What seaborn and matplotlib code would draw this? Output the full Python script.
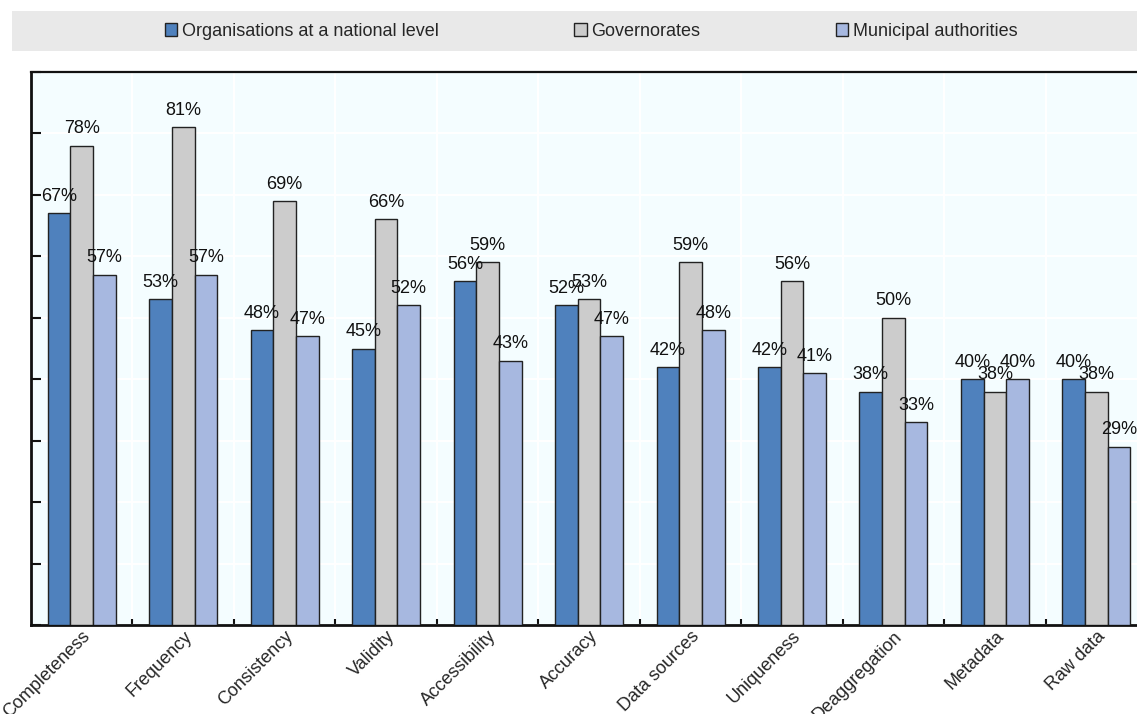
import matplotlib
matplotlib.use("Agg")
import matplotlib.pyplot as plt
from matplotlib.patches import Rectangle
from matplotlib.ticker import MultipleLocator, FixedLocator
import seaborn as sns
import pandas as pd

categories = ["Completeness", "Frequency", "Consistency", "Validity", "Accessibility",
              "Accuracy", "Data sources", "Uniqueness", "Deaggregation", "Metadata", "Raw data"]
national = [67, 53, 48, 45, 56, 52, 42, 42, 38, 40, 40]
governorates = [78, 81, 69, 66, 59, 53, 59, 56, 50, 38, 38]
municipal = [57, 57, 47, 52, 43, 47, 48, 41, 33, 40, 29]

series_names = ["Organisations at a national level", "Governorates", "Municipal authorities"]
colors = ["#4f81bd", "#cccccc", "#a7b8e0"]

df = pd.DataFrame({
    "category": categories * 3,
    "value": national + governorates + municipal,
    "series": [s for s in series_names for _ in categories],
})

sns.set_style("white")
plt.rcParams["font.family"] = ["Liberation Sans Narrow", "Liberation Sans", "DejaVu Sans"]

fig = plt.figure(figsize=(11.37, 7.14), dpi=100)
ax = fig.add_axes([31 / 1137, 1 - 625 / 714, 1 - 31 / 1137, (625 - 72) / 714])
ax.set_facecolor("#f4fdff")

sns.barplot(data=df, x="category", y="value", hue="series", order=categories,
            hue_order=series_names, palette=colors, width=0.67, gap=0,
            edgecolor="#222222", linewidth=1.0, saturation=1, ax=ax, legend=False,
            errorbar=None, zorder=3)

for cont in ax.containers:
    ax.bar_label(cont, fmt="{:.0f}%", padding=6, fontsize=13, color="#111111")

ax.set_xlim(-0.5, 10.4)
ax.set_ylim(0, 90)
ax.set_xlabel("")
ax.set_ylabel("")

# y axis: unlabeled ticks every 10, white horizontal grid
ax.yaxis.set_major_locator(MultipleLocator(10))
ax.set_yticklabels([])
ax.tick_params(axis="y", direction="in", length=7, width=1.5, left=True, color="#111111")

# x axis: category labels, inward separators between categories
ax.tick_params(axis="x", which="major", length=0, labelsize=13, pad=2)
ax.xaxis.set_minor_locator(FixedLocator([i + 0.5 for i in range(len(categories) - 1)]))
ax.tick_params(axis="x", which="minor", direction="in", length=4.5, width=1.5,
               bottom=True, color="#111111")
for lbl in ax.get_xticklabels():
    lbl.set_rotation(45)
    lbl.set_ha("right")
    lbl.set_rotation_mode("anchor")

ax.grid(axis="y", which="major", color="white", linewidth=1.5, zorder=0)
ax.grid(axis="x", which="minor", color="white", linewidth=1.5, zorder=0)
ax.set_axisbelow(True)

for side in ["left", "bottom", "top"]:
    ax.spines[side].set_visible(True)
    ax.spines[side].set_color("#111111")
ax.spines["left"].set_linewidth(2)
ax.spines["bottom"].set_linewidth(2)
ax.spines["top"].set_linewidth(1.6)
ax.spines["right"].set_visible(False)

# legend band across the top
fig.patches.append(Rectangle((12 / 1137, 1 - 51 / 714), 1 - 12 / 1137, 40 / 714,
                             transform=fig.transFigure, facecolor="#e9e9e9",
                             edgecolor="none", zorder=0))
handles = [Rectangle((0, 0), 1, 1, facecolor=c, edgecolor="#222222", linewidth=1.0)
           for c in colors]
fig.legend(handles, series_names, loc="center", bbox_to_anchor=(0.52, 1 - 31 / 714),
           ncol=3, frameon=False, fontsize=13, handlelength=0.7, handleheight=0.7,
           handletextpad=0.25, columnspacing=7.5, borderaxespad=0)

fig.savefig("out.png", dpi=100)
